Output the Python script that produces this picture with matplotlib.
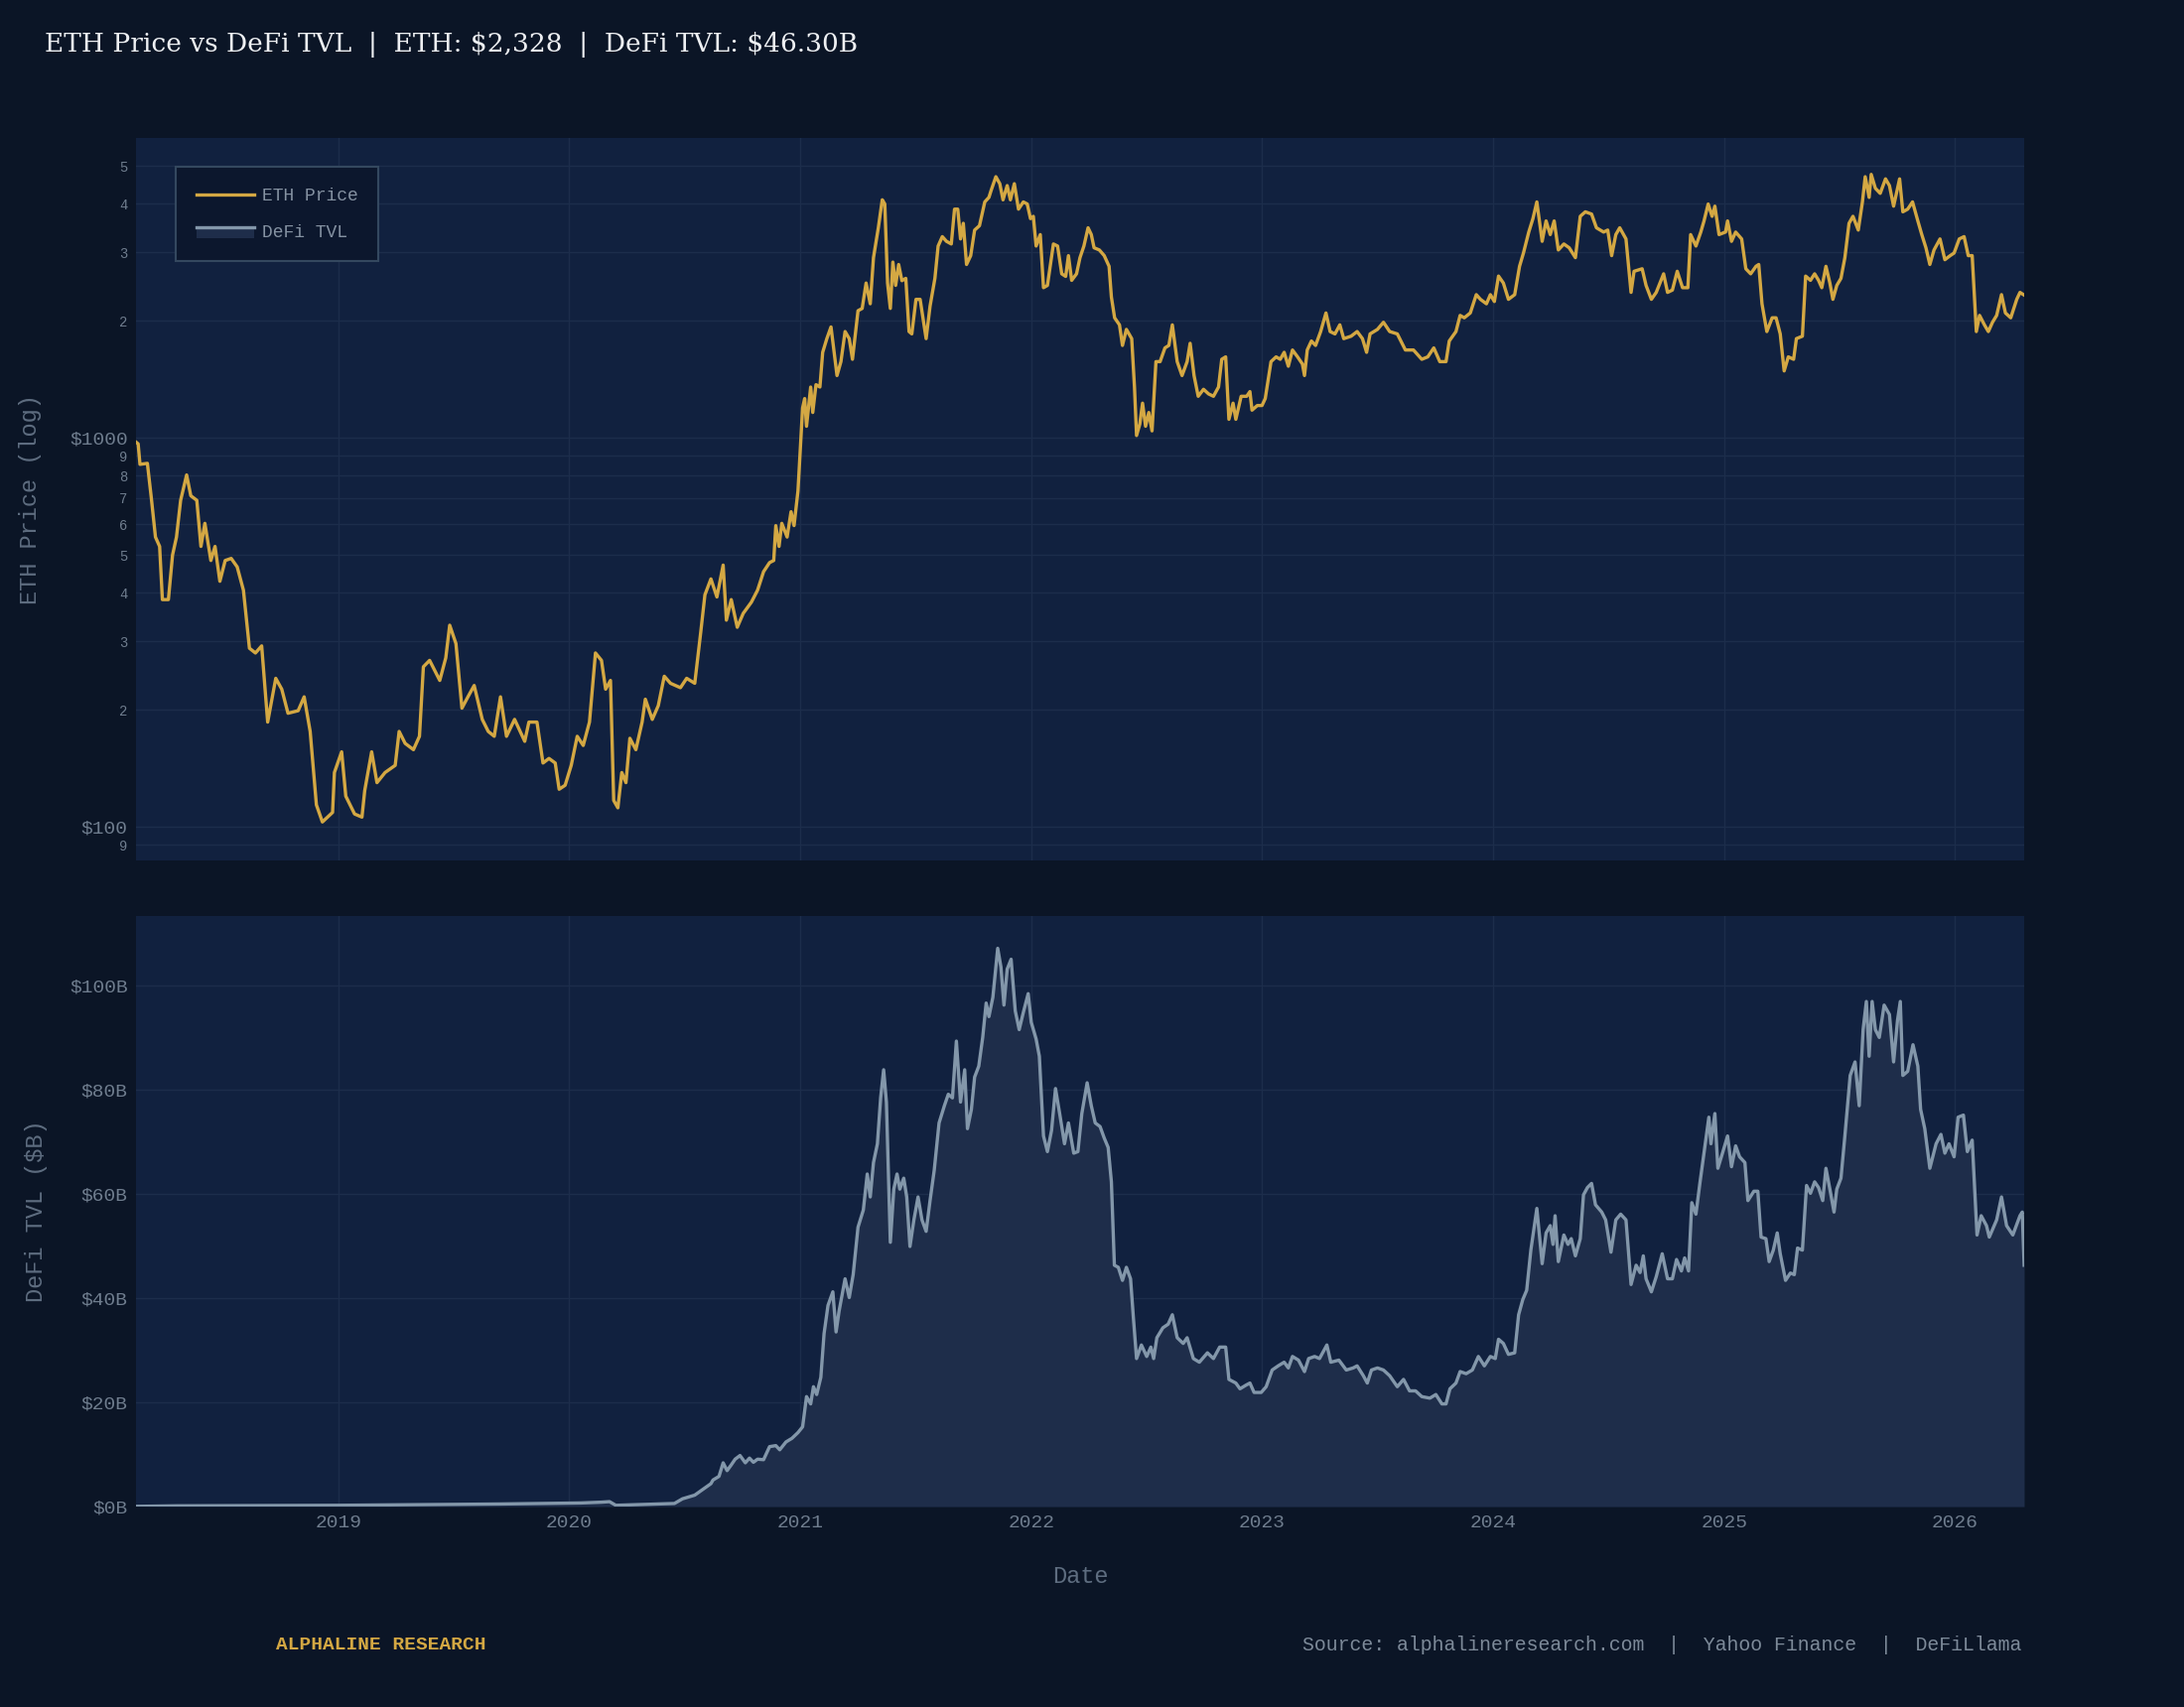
import pandas as pd
import matplotlib.pyplot as plt
import matplotlib.dates as mdates
from matplotlib.patches import Patch, Rectangle
from matplotlib.lines import Line2D
from matplotlib.legend_handler import HandlerBase
from matplotlib.ticker import FixedLocator, FixedFormatter

# ETH price (decimal year, USD)
eth_t = [2018.123, 2018.132, 2018.140, 2018.172, 2018.189, 2018.207, 2018.225, 2018.237, 2018.263, 2018.281,
         2018.298, 2018.316, 2018.342, 2018.360, 2018.386, 2018.404, 2018.421, 2018.447, 2018.465, 2018.486,
         2018.509, 2018.535, 2018.561, 2018.588, 2018.614, 2018.640, 2018.667, 2018.693, 2018.728, 2018.754,
         2018.781, 2018.825, 2018.851, 2018.877, 2018.904, 2018.930, 2018.974, 2018.982, 2019.014, 2019.032,
         2019.070, 2019.102, 2019.114, 2019.144, 2019.167, 2019.202, 2019.246, 2019.263, 2019.289, 2019.325,
         2019.351, 2019.368, 2019.395, 2019.439, 2019.465, 2019.482, 2019.509, 2019.535, 2019.561, 2019.588,
         2019.623, 2019.649, 2019.675, 2019.702, 2019.728, 2019.763, 2019.807, 2019.825, 2019.860, 2019.886,
         2019.912, 2019.939, 2019.956, 2019.982, 2020.009, 2020.035, 2020.061, 2020.088, 2020.114, 2020.140,
         2020.158, 2020.179, 2020.193, 2020.211, 2020.228, 2020.246, 2020.263, 2020.289, 2020.316, 2020.330,
         2020.360, 2020.386, 2020.412, 2020.439, 2020.482, 2020.509, 2020.544, 2020.570, 2020.588, 2020.614,
         2020.640, 2020.667, 2020.681, 2020.702, 2020.728, 2020.754, 2020.789, 2020.816, 2020.842, 2020.868,
         2020.886, 2020.895, 2020.909, 2020.921, 2020.944, 2020.961, 2020.974, 2020.991, 2021.009, 2021.018,
         2021.026, 2021.044, 2021.053, 2021.067, 2021.084, 2021.096, 2021.114, 2021.132, 2021.158, 2021.175,
         2021.193, 2021.211, 2021.225, 2021.249, 2021.267, 2021.284, 2021.302, 2021.316, 2021.337, 2021.354,
         2021.365, 2021.377, 2021.389, 2021.400, 2021.412, 2021.425, 2021.439, 2021.456, 2021.470, 2021.482,
         2021.500, 2021.518, 2021.544, 2021.561, 2021.582, 2021.596, 2021.614, 2021.632, 2021.653, 2021.667,
         2021.681, 2021.693, 2021.705, 2021.719, 2021.737, 2021.754, 2021.775, 2021.798, 2021.816, 2021.825,
         2021.846, 2021.863, 2021.877, 2021.895, 2021.909, 2021.926, 2021.944, 2021.965, 2021.982, 2021.996,
         2022.009, 2022.021, 2022.039, 2022.053, 2022.070, 2022.096, 2022.114, 2022.132, 2022.149, 2022.161,
         2022.175, 2022.196, 2022.211, 2022.228, 2022.246, 2022.260, 2022.272, 2022.295, 2022.316, 2022.337,
         2022.347, 2022.361, 2022.382, 2022.395, 2022.412, 2022.435, 2022.447, 2022.456, 2022.470, 2022.482,
         2022.495, 2022.509, 2022.523, 2022.540, 2022.558, 2022.579, 2022.596, 2022.611, 2022.632, 2022.653,
         2022.675, 2022.688, 2022.705, 2022.723, 2022.746, 2022.768, 2022.789, 2022.811, 2022.825, 2022.842,
         2022.856, 2022.874, 2022.886, 2022.909, 2022.933, 2022.947, 2022.956, 2022.979, 2023.000, 2023.014,
         2023.039, 2023.061, 2023.079, 2023.096, 2023.114, 2023.132, 2023.154, 2023.175, 2023.184, 2023.196,
         2023.214, 2023.232, 2023.254, 2023.277, 2023.295, 2023.316, 2023.337, 2023.354, 2023.386, 2023.412,
         2023.435, 2023.453, 2023.468, 2023.500, 2023.526, 2023.553, 2023.586, 2023.621, 2023.656, 2023.692,
         2023.718, 2023.744, 2023.770, 2023.797, 2023.811, 2023.840, 2023.858, 2023.876, 2023.902, 2023.928,
         2023.946, 2023.972, 2023.989, 2024.007, 2024.025, 2024.046, 2024.068, 2024.095, 2024.116, 2024.133,
         2024.156, 2024.174, 2024.191, 2024.214, 2024.231, 2024.249, 2024.266, 2024.284, 2024.308, 2024.331,
         2024.358, 2024.379, 2024.401, 2024.428, 2024.449, 2024.480, 2024.498, 2024.515, 2024.533, 2024.550,
         2024.577, 2024.599, 2024.612, 2024.647, 2024.664, 2024.687, 2024.708, 2024.740, 2024.757, 2024.778,
         2024.799, 2024.822, 2024.845, 2024.857, 2024.880, 2024.901, 2024.915, 2024.933, 2024.950, 2024.962,
         2024.980, 2025.006, 2025.015, 2025.032, 2025.050, 2025.076, 2025.094, 2025.115, 2025.138, 2025.150,
         2025.164, 2025.185, 2025.208, 2025.225, 2025.243, 2025.260, 2025.278, 2025.301, 2025.313, 2025.339,
         2025.353, 2025.374, 2025.392, 2025.409, 2025.423, 2025.441, 2025.458, 2025.471, 2025.488, 2025.506,
         2025.523, 2025.541, 2025.558, 2025.581, 2025.599, 2025.611, 2025.628, 2025.637, 2025.655, 2025.676,
         2025.699, 2025.716, 2025.734, 2025.760, 2025.774, 2025.795, 2025.816, 2025.839, 2025.856, 2025.874,
         2025.891, 2025.909, 2025.935, 2025.956, 2025.979, 2025.996, 2026.019, 2026.040, 2026.058, 2026.075,
         2026.093, 2026.107, 2026.128, 2026.145, 2026.163, 2026.181, 2026.202, 2026.219, 2026.242, 2026.268,
         2026.282, 2026.300]
eth_price = [975, 965, 855, 860, 701, 556, 526, 384, 384, 500,
             556, 691, 803, 710, 691, 526, 603, 484, 526, 428,
             484, 490, 466, 406, 288, 280, 292, 186, 241, 226,
             196, 199, 216, 176, 114, 103, 109, 138, 156, 120,
             108, 106, 124, 156, 130, 138, 144, 176, 164, 158,
             171, 258, 268, 238, 272, 330, 296, 202, 216, 231,
             189, 176, 171, 216, 171, 189, 166, 186, 186, 146,
             150, 146, 125, 128, 144, 171, 162, 186, 280, 268,
             226, 238, 117, 112, 138, 130, 169, 158, 186, 213,
             189, 205, 244, 234, 228, 241, 234, 317, 395, 434,
             390, 471, 340, 384, 326, 354, 378, 406, 453, 478,
             484, 595, 526, 603, 556, 646, 595, 730, 1194, 1262,
             1071, 1351, 1162, 1370, 1351, 1659, 1799, 1928, 1446, 1570,
             1876, 1799, 1592, 2122, 2151, 2500, 2211, 2905, 3467, 4091,
             3990, 2500, 2151, 2830, 2465, 2790, 2535, 2570, 1876, 1850,
             2270, 2270, 1799, 2180, 2570, 3112, 3290, 3200, 3150, 3871,
             3871, 3245, 3560, 2790, 2940, 3420, 3510, 4040, 4150, 4316,
             4690, 4500, 4090, 4450, 4090, 4500, 3871, 4040, 3990, 3660,
             3710, 3112, 3330, 2432, 2465, 3150, 3112, 2640, 2600, 2940,
             2540, 2640, 2905, 3112, 3467, 3330, 3080, 3040, 2940, 2760,
             2302, 2035, 1952, 1728, 1900, 1799, 1351, 1014, 1085, 1228,
             1071, 1162, 1042, 1570, 1570, 1703, 1728, 1952, 1570, 1446,
             1570, 1750, 1446, 1279, 1333, 1297, 1279, 1351, 1592, 1615,
             1116, 1228, 1116, 1279, 1279, 1315, 1178, 1211, 1211, 1262,
             1570, 1615, 1592, 1659, 1528, 1682, 1615, 1548, 1446, 1682,
             1774, 1728, 1876, 2094, 1876, 1850, 1952, 1799, 1825, 1876,
             1799, 1659, 1850, 1900, 1982, 1876, 1850, 1682, 1682, 1592,
             1615, 1703, 1570, 1570, 1774, 1876, 2064, 2035, 2094, 2334,
             2270, 2211, 2334, 2241, 2605, 2500, 2270, 2334, 2760, 2986,
             3380, 3660, 4040, 3200, 3610, 3330, 3610, 3040, 3150, 3080,
             2905, 3710, 3810, 3760, 3467, 3380, 3420, 2940, 3330, 3467,
             3245, 2365, 2680, 2720, 2465, 2270, 2365, 2640, 2365, 2398,
             2680, 2432, 2432, 3330, 3112, 3380, 3610, 3990, 3710, 3940,
             3330, 3380, 3610, 3200, 3380, 3245, 2720, 2640, 2760, 2790,
             2211, 1876, 2035, 2035, 1850, 1486, 1615, 1592, 1799, 1825,
             2605, 2540, 2640, 2540, 2432, 2760, 2500, 2270, 2465, 2570,
             2905, 3560, 3710, 3420, 4040, 4690, 4150, 4755, 4380, 4250,
             4630, 4450, 3940, 4630, 3810, 3871, 4040, 3610, 3330, 3080,
             2790, 3040, 3245, 2870, 2940, 2986, 3245, 3290, 2940, 2940,
             1876, 2064, 1952, 1876, 1982, 2064, 2334, 2094, 2035, 2270,
             2365, 2328]

# DeFi TVL (decimal year, $B)
tvl_t = [2018.123, 2018.298, 2019.000, 2019.702, 2020.053, 2020.140, 2020.175, 2020.202, 2020.316, 2020.456,
         2020.491, 2020.544, 2020.579, 2020.614, 2020.623, 2020.649, 2020.667, 2020.684, 2020.702, 2020.719,
         2020.740, 2020.763, 2020.781, 2020.798, 2020.816, 2020.842, 2020.868, 2020.895, 2020.912, 2020.939,
         2020.965, 2020.991, 2021.009, 2021.026, 2021.044, 2021.056, 2021.070, 2021.088, 2021.102, 2021.119,
         2021.140, 2021.154, 2021.167, 2021.193, 2021.211, 2021.228, 2021.249, 2021.272, 2021.289, 2021.302,
         2021.316, 2021.333, 2021.347, 2021.360, 2021.372, 2021.389, 2021.404, 2021.418, 2021.430, 2021.447,
         2021.460, 2021.474, 2021.491, 2021.509, 2021.526, 2021.544, 2021.561, 2021.579, 2021.600, 2021.623,
         2021.640, 2021.658, 2021.675, 2021.693, 2021.711, 2021.723, 2021.740, 2021.754, 2021.772, 2021.789,
         2021.804, 2021.816, 2021.833, 2021.842, 2021.854, 2021.868, 2021.881, 2021.895, 2021.912, 2021.930,
         2021.947, 2021.965, 2021.986, 2022.000, 2022.021, 2022.035, 2022.053, 2022.070, 2022.088, 2022.105,
         2022.123, 2022.144, 2022.161, 2022.184, 2022.202, 2022.219, 2022.242, 2022.260, 2022.277, 2022.298,
         2022.316, 2022.333, 2022.347, 2022.360, 2022.377, 2022.395, 2022.412, 2022.430, 2022.442, 2022.456,
         2022.477, 2022.500, 2022.518, 2022.530, 2022.544, 2022.570, 2022.593, 2022.611, 2022.632, 2022.658,
         2022.675, 2022.702, 2022.728, 2022.763, 2022.789, 2022.816, 2022.842, 2022.856, 2022.886, 2022.904,
         2022.930, 2022.947, 2022.965, 2022.996, 2023.018, 2023.044, 2023.070, 2023.096, 2023.114, 2023.132,
         2023.158, 2023.184, 2023.202, 2023.228, 2023.249, 2023.281, 2023.298, 2023.333, 2023.365, 2023.395,
         2023.412, 2023.439, 2023.456, 2023.474, 2023.500, 2023.526, 2023.553, 2023.586, 2023.613, 2023.639,
         2023.665, 2023.692, 2023.727, 2023.753, 2023.779, 2023.797, 2023.814, 2023.840, 2023.858, 2023.884,
         2023.911, 2023.937, 2023.963, 2023.989, 2024.011, 2024.025, 2024.046, 2024.068, 2024.095, 2024.112,
         2024.130, 2024.147, 2024.165, 2024.191, 2024.214, 2024.231, 2024.249, 2024.261, 2024.270, 2024.284,
         2024.308, 2024.326, 2024.340, 2024.358, 2024.379, 2024.393, 2024.410, 2024.428, 2024.445, 2024.472,
         2024.489, 2024.512, 2024.533, 2024.554, 2024.577, 2024.599, 2024.621, 2024.638, 2024.652, 2024.664,
         2024.687, 2024.708, 2024.734, 2024.757, 2024.778, 2024.796, 2024.817, 2024.831, 2024.848, 2024.862,
         2024.880, 2024.897, 2024.918, 2024.936, 2024.945, 2024.962, 2024.975, 2024.997, 2025.015, 2025.032,
         2025.050, 2025.067, 2025.090, 2025.103, 2025.129, 2025.146, 2025.160, 2025.181, 2025.195, 2025.213,
         2025.230, 2025.243, 2025.266, 2025.287, 2025.304, 2025.318, 2025.339, 2025.357, 2025.374, 2025.392,
         2025.409, 2025.427, 2025.441, 2025.458, 2025.476, 2025.488, 2025.506, 2025.523, 2025.546, 2025.567,
         2025.585, 2025.602, 2025.616, 2025.628, 2025.641, 2025.655, 2025.672, 2025.693, 2025.716, 2025.734,
         2025.751, 2025.763, 2025.774, 2025.795, 2025.818, 2025.839, 2025.851, 2025.869, 2025.891, 2025.918,
         2025.939, 2025.956, 2025.974, 2025.996, 2026.014, 2026.037, 2026.054, 2026.075, 2026.096, 2026.114,
         2026.137, 2026.149, 2026.181, 2026.202, 2026.224, 2026.251, 2026.282, 2026.292, 2026.300]
tvl_b = [0.05, 0.15, 0.25, 0.5, 0.7, 0.85, 0.95, 0.25, 0.4, 0.6,
         1.5, 2.2, 3.3, 4.4, 5.1, 5.8, 8.4, 6.9, 8.0, 9.1,
         9.8, 8.4, 9.3, 8.5, 9.1, 9.0, 11.5, 11.7, 10.9, 12.4,
         13.1, 14.2, 15.3, 21.1, 19.7, 23.0, 21.5, 24.8, 33.2, 38.6,
         41.2, 33.5, 37.5, 43.7, 40.1, 44.5, 53.6, 56.9, 63.8, 59.4,
         66.0, 69.6, 78.4, 83.8, 77.6, 50.7, 60.9, 63.8, 60.9, 63.0,
         59.4, 49.9, 55.0, 59.4, 55.0, 52.8, 58.7, 64.5, 73.6, 76.9,
         79.1, 78.4, 89.3, 77.6, 83.8, 72.5, 76.2, 82.4, 84.5, 90.0,
         96.6, 94.0, 97.7, 101.7, 107.1, 103.5, 96.2, 103.1, 105.0, 95.1,
         91.5, 94.8, 98.4, 92.9, 89.7, 86.4, 71.1, 68.1, 72.2, 80.2,
         75.4, 69.6, 73.6, 67.8, 68.1, 75.4, 81.3, 76.9, 73.6, 72.9,
         70.7, 68.9, 62.3, 46.3, 45.9, 43.4, 45.9, 43.7, 36.4, 28.4,
         31.0, 28.8, 30.6, 28.4, 32.4, 34.3, 35.0, 36.8, 32.4, 31.3,
         32.4, 28.4, 27.7, 29.5, 28.4, 30.6, 30.6, 24.4, 23.7, 22.6,
         23.3, 23.7, 21.9, 21.9, 23.0, 26.2, 27.0, 27.7, 26.6, 28.8,
         28.1, 25.9, 28.4, 28.8, 28.4, 31.0, 27.7, 28.1, 26.2, 26.6,
         27.0, 25.1, 23.7, 26.2, 26.6, 26.2, 25.1, 23.0, 24.4, 22.2,
         22.2, 21.1, 20.8, 21.5, 19.7, 19.7, 22.6, 23.7, 25.9, 25.5,
         26.2, 28.8, 27.0, 28.8, 28.4, 32.1, 31.3, 29.2, 29.5, 36.8,
         39.7, 41.5, 49.2, 57.2, 46.6, 52.5, 53.9, 50.3, 55.8, 47.0,
         52.1, 50.3, 51.4, 48.1, 51.4, 59.8, 61.2, 62.0, 57.9, 56.5,
         55.0, 48.8, 55.0, 56.1, 55.0, 42.6, 46.3, 44.9, 48.1, 43.7,
         41.2, 44.1, 48.5, 43.7, 43.7, 47.4, 45.2, 47.7, 45.2, 58.3,
         56.1, 62.0, 68.9, 74.7, 69.6, 75.4, 64.9, 68.1, 71.1, 65.2,
         69.2, 67.1, 66.0, 58.7, 60.5, 60.5, 51.7, 51.4, 47.0, 49.2,
         52.5, 48.5, 43.4, 44.8, 44.5, 49.6, 49.2, 61.6, 60.1, 62.3,
         61.2, 58.7, 64.9, 60.9, 56.5, 60.9, 63.0, 71.1, 82.7, 85.3,
         76.9, 91.5, 96.9, 86.4, 96.9, 91.5, 90.0, 96.2, 94.4, 85.3,
         93.3, 96.9, 82.7, 83.5, 88.6, 84.5, 76.2, 72.5, 64.9, 69.6,
         71.4, 67.8, 69.6, 67.1, 74.7, 75.1, 68.1, 70.3, 52.1, 55.8,
         53.9, 51.7, 55.0, 59.4, 53.9, 52.1, 55.8, 56.5, 46.3]

years = [2019, 2020, 2021, 2022, 2023, 2024, 2025, 2026]
eth_minor = [90, 200, 300, 400, 500, 600, 700, 800, 900, 2000, 3000, 4000, 5000]
eth_minor_labels = ["9", "2", "3", "4", "5", "6", "7", "8", "9", "2", "3", "4", "5"]
tvl_ticks = [0, 20, 40, 60, 80, 100]


def to_dates(yrs):
    out = []
    for y in yrs:
        base = pd.Timestamp(int(y), 1, 1)
        out.append(base + pd.Timedelta(days=(y - int(y)) * 365.25))
    return out


eth_d = to_dates(eth_t)
tvl_d = to_dates(tvl_t)

FIG_BG = '#0b1526'
AX_BG = '#11213f'
GRID = '#1c2d4b'
GOLD = '#d4a843'
TVL_LINE = '#8397aa'
TVL_FILL = '#1e2d4a'
TICK = '#6f7d8e'
LABEL = '#5e6d80'
MONO = 'Liberation Mono'


class FillLineHandler(HandlerBase):
    # line on top of a filled strip, like the area trace in the legend
    def create_artists(self, legend, orig_handle, xdescent, ydescent, width, height, fontsize, trans):
        top = -ydescent + height * 0.8
        rect = Rectangle((-xdescent, -ydescent - height * 0.1), width, height * 0.9,
                         facecolor=TVL_FILL, edgecolor='none', transform=trans)
        line = Line2D([-xdescent, -xdescent + width], [top, top], color=TVL_LINE, lw=2.4, transform=trans)
        return [rect, line]


fig = plt.figure(figsize=(22, 17.2), dpi=100, facecolor=FIG_BG)
ax1 = fig.add_axes([0.0623, 0.4959, 0.8645, 0.4233], facecolor=AX_BG)
ax2 = fig.add_axes([0.0623, 0.1174, 0.8645, 0.3460], facecolor=AX_BG, sharex=ax1)

# top: ETH price, log scale
ax1.plot(eth_d, eth_price, color=GOLD, lw=2.4, zorder=3)
ax1.set_yscale('log')
ax1.set_ylim(82, 5900)
ax1.yaxis.set_major_locator(FixedLocator([100, 1000]))
ax1.yaxis.set_major_formatter(FixedFormatter(["\\$100", "\\$1000"]))
ax1.yaxis.set_minor_locator(FixedLocator(eth_minor))
ax1.yaxis.set_minor_formatter(FixedFormatter(eth_minor_labels))
ax1.set_ylabel("ETH Price (log)", fontsize=17, color=LABEL, family=MONO)
ax1.yaxis.set_label_coords(-0.050, 0.5)
ax1.tick_params(axis='x', labelbottom=False)

# bottom: DeFi TVL
ax2.fill_between(tvl_d, 0, tvl_b, color=TVL_FILL, lw=0, zorder=2)
ax2.plot(tvl_d, tvl_b, color=TVL_LINE, lw=2.4, zorder=3)
ax2.set_ylim(0, 113.3)
ax2.set_yticks(tvl_ticks)
ax2.set_yticklabels(["\\$%dB" % v for v in tvl_ticks])
ax2.set_ylabel("DeFi TVL (\\$B)", fontsize=17, color=LABEL, family=MONO)
ax2.yaxis.set_label_coords(-0.047, 0.5)
ax2.set_xlabel("Date", fontsize=17, color=LABEL, family=MONO, labelpad=24)

ax2.set_xlim(eth_d[0], eth_d[-1])
ax2.xaxis.set_major_locator(FixedLocator([mdates.date2num(pd.Timestamp(y, 1, 1)) for y in years]))
ax2.xaxis.set_major_formatter(FixedFormatter([str(y) for y in years]))

for ax in (ax1, ax2):
    for s in ax.spines.values():
        s.set_visible(False)
    ax.tick_params(which='both', length=0, colors=TICK)
    ax.tick_params(axis='y', which='major', labelsize=14, pad=6)
    ax.tick_params(axis='y', which='minor', labelsize=10, pad=6)
    ax.tick_params(axis='x', labelsize=14, pad=6)
    for lab in ax.get_xticklabels() + ax.get_yticklabels() + ax.get_yticklabels(minor=True):
        lab.set_family(MONO)
    ax.grid(axis='x', which='major', color=GRID, lw=1)
    ax.grid(axis='y', which='both', color=GRID, lw=1)
    ax.set_axisbelow(True)

# legend
eth_h = Line2D([], [], color=GOLD, lw=2.4)
tvl_h = Patch()
leg = ax1.legend([eth_h, tvl_h], ["ETH Price", "DeFi TVL"], loc='upper left',
                 bbox_to_anchor=(0.021, 0.96), borderaxespad=0, handler_map={tvl_h: FillLineHandler()},
                 prop={'family': MONO, 'size': 13}, labelcolor='#8592a2', handlelength=3.2,
                 handletextpad=0.45, borderpad=1.15, labelspacing=1.1, fancybox=False, framealpha=1)
leg.get_frame().set_facecolor('#0c172d')
leg.get_frame().set_edgecolor('#34485f')
leg.get_frame().set_linewidth(1.5)

fig.text(0.0205, 0.974, "ETH Price vs DeFi TVL  |  ETH: \\$2,328  |  DeFi TVL: \\$46.30B",
         fontsize=19, color='#eef0f3', family='DejaVu Serif', va='center', ha='left')
fig.text(0.1264, 0.0366, "ALPHALINE RESEARCH", fontsize=14, color=GOLD, family=MONO,
         weight='bold', va='center', ha='left')
fig.text(0.9255, 0.0366, "Source: alphalineresearch.com  |  Yahoo Finance  |  DeFiLlama",
         fontsize=14.3, color='#7d8a99', family=MONO, va='center', ha='right')

fig.savefig("out.png", dpi=100, facecolor=FIG_BG)
